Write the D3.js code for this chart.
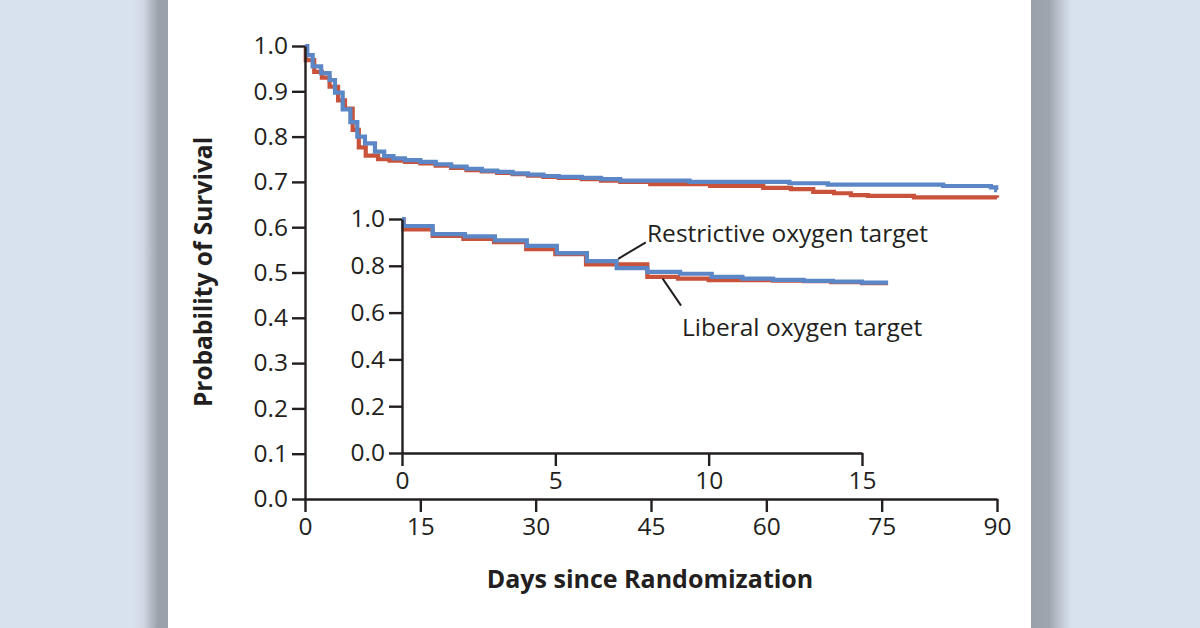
<!DOCTYPE html>
<html>
<head>
<meta charset="utf-8">
<script src="https://cdn.jsdelivr.net/npm/d3@7/dist/d3.min.js"></script>
<style>
  html, body { margin: 0; padding: 0; background: #d8e1ee; }
  svg { display: block; }
  text { font-family: "Open Sans", "Noto Sans", sans-serif; fill: #231f20; }
</style>
</head>
<body>
<svg id="chart" width="1200" height="628"></svg>
<script>
// ---------- DATA ----------
// Main panel (0-90 days)
const mainRestrictiveDays = [0, 0.3, 1.0, 2.1, 3.2, 3.9, 4.9, 5.9, 6.8, 7.8, 9.1, 10.3, 11.5, 13, 15, 17, 19, 21, 23, 25, 27, 29, 31, 33, 36, 38.5, 41, 50, 63, 68, 83, 89.2, 89.9, 90];
const mainRestrictiveSurv = [1.0, 0.98, 0.955, 0.94, 0.925, 0.897, 0.86, 0.832, 0.80, 0.785, 0.767, 0.757, 0.752, 0.748, 0.744, 0.739, 0.734, 0.729, 0.725, 0.722, 0.719, 0.716, 0.713, 0.711, 0.709, 0.706, 0.703, 0.70, 0.697, 0.694, 0.691, 0.688, 0.682, 0.682];
const mainLiberalDays = [0, 0.1, 1.2, 2.2, 3.2, 4.3, 5.2, 6.2, 7.0, 7.9, 9.5, 11, 13, 15, 17, 19, 21, 23, 25, 27, 29, 31, 33, 36, 38.5, 41, 44.9, 52.7, 59.6, 63.2, 66.1, 68.8, 71, 73.2, 79.2, 90];
const mainLiberalSurv = [1.0, 0.969, 0.943, 0.93, 0.91, 0.88, 0.862, 0.815, 0.776, 0.758, 0.75, 0.747, 0.744, 0.741, 0.736, 0.731, 0.726, 0.723, 0.720, 0.717, 0.714, 0.711, 0.709, 0.706, 0.703, 0.700, 0.695, 0.691, 0.687, 0.684, 0.678, 0.675, 0.671, 0.669, 0.666, 0.665];

// Inset (0-15.85 days)
const insetRestrictiveDays = [0, 0.05, 1.0, 2.05, 3.03, 4.07, 5.05, 6.03, 7.0, 8.0, 9.07, 10.1, 11.1, 12.1, 13.1, 14.05, 15.0, 15.85];
const insetRestrictiveSurv = [1.0, 0.970, 0.935, 0.926, 0.909, 0.885, 0.854, 0.820, 0.790, 0.774, 0.766, 0.753, 0.745, 0.740, 0.736, 0.732, 0.728, 0.728];
const insetLiberalDays = [0, 0.05, 1.0, 2.0, 3.0, 4.05, 5.0, 6.0, 8.0, 9.0, 10.0, 12.1, 13.1, 14.0, 15.0, 15.85];
const insetLiberalSurv = [1.0, 0.956, 0.928, 0.915, 0.901, 0.871, 0.850, 0.806, 0.753, 0.745, 0.739, 0.737, 0.734, 0.730, 0.726, 0.726];

// Ticks
const mainYTicks = [0, 0.1, 0.2, 0.3, 0.4, 0.5, 0.6, 0.7, 0.8, 0.9, 1.0];
const mainXTicks = [0, 15, 30, 45, 60, 75, 90];
const insetYTicks = [0, 0.2, 0.4, 0.6, 0.8, 1.0];
const insetXTicks = [0, 5, 10, 15];

const seriesNames = ["Restrictive oxygen target", "Liberal oxygen target"];
const xTitle = "Days since Randomization";
const yTitle = "Probability of Survival";

// ---------- DRAW ----------
const svg = d3.select("#chart");
const W = 1200, H = 628;
const ink = "#231f20";
const blue = "#5b87c6";
const red = "#c9523b";

// background with side shadows
const defs = svg.append("defs");
const gl = defs.append("linearGradient").attr("id", "shL").attr("x1", 0).attr("x2", 1).attr("y1", 0).attr("y2", 0);
gl.append("stop").attr("offset", 0).attr("stop-color", "#d8e1ee");
gl.append("stop").attr("offset", 0.3).attr("stop-color", "#d0d8e3");
gl.append("stop").attr("offset", 0.6).attr("stop-color", "#a9b0ba");
gl.append("stop").attr("offset", 0.72).attr("stop-color", "#9aa1aa");
gl.append("stop").attr("offset", 1).attr("stop-color", "#9aa1aa");
const gr = defs.append("linearGradient").attr("id", "shR").attr("x1", 0).attr("x2", 1).attr("y1", 0).attr("y2", 0);
gr.append("stop").attr("offset", 0).attr("stop-color", "#9aa1aa");
gr.append("stop").attr("offset", 0.45).attr("stop-color", "#9ea5ae");
gr.append("stop").attr("offset", 0.7).attr("stop-color", "#bcc3cd");
gr.append("stop").attr("offset", 1).attr("stop-color", "#d8e1ee");

svg.append("rect").attr("x", 0).attr("y", 0).attr("width", W).attr("height", H).attr("fill", "#d8e1ee");
svg.append("rect").attr("x", 133).attr("y", 0).attr("width", 35).attr("height", H).attr("fill", "url(#shL)");
svg.append("rect").attr("x", 1031).attr("y", 0).attr("width", 40).attr("height", H).attr("fill", "url(#shR)");
svg.append("rect").attr("x", 168).attr("y", 0).attr("width", 863).attr("height", H).attr("fill", "#ffffff");

const fontSize = 24.5;

function styleAxis(g) {
  g.selectAll(".domain").attr("stroke", ink).attr("stroke-width", 2.4);
  g.selectAll(".tick line").attr("stroke", ink).attr("stroke-width", 2.4);
  g.selectAll(".tick text").attr("font-size", fontSize).attr("fill", ink)
    .attr("font-family", '"Open Sans", "Noto Sans", sans-serif');
}

function drawPanel(xDomain, xRange, yRange, xTicks, yTicks, curves) {
  const x = d3.scaleLinear().domain(xDomain).range(xRange);
  const y = d3.scaleLinear().domain([0, 1]).range(yRange);
  const line = d3.line().x(d => x(d[0])).y(d => y(d[1])).curve(d3.curveStepAfter);
  curves.forEach(c => {
    const pts = c.days.map((d, i) => [d, c.surv[i]]);
    svg.append("path").datum(pts).attr("d", line)
      .attr("fill", "none").attr("stroke", c.color).attr("stroke-width", 4.2)
      .attr("stroke-linejoin", "miter");
  });
  const gx = svg.append("g").attr("transform", `translate(0,${yRange[0]})`)
    .call(d3.axisBottom(x).tickValues(xTicks).tickSize(13).tickSizeOuter(0).tickPadding(6).tickFormat(d3.format("d")));
  styleAxis(gx);
  const gy = svg.append("g").attr("transform", `translate(${xRange[0]},0)`)
    .call(d3.axisLeft(y).tickValues(yTicks).tickSize(13).tickSizeOuter(0).tickPadding(4).tickFormat(d3.format(".1f")));
  styleAxis(gy);
  return { x, y };
}

// main panel
const main = drawPanel([0, 90], [305, 997], [499, 46], mainXTicks, mainYTicks, [
  { days: mainLiberalDays, surv: mainLiberalSurv, color: red },
  { days: mainRestrictiveDays, surv: mainRestrictiveSurv, color: blue }
]);

// inset panel
const inset = drawPanel([0, 15], [402, 862], [453, 219], insetXTicks, insetYTicks, [
  { days: insetLiberalDays, surv: insetLiberalSurv, color: red },
  { days: insetRestrictiveDays, surv: insetRestrictiveSurv, color: blue }
]);

// series labels with leader lines
svg.append("line").attr("x1", inset.x(7.05)).attr("y1", inset.y(0.83)).attr("x2", inset.x(7.95)).attr("y2", inset.y(0.90))
  .attr("stroke", ink).attr("stroke-width", 2);
svg.append("text").attr("x", 647).attr("y", 242).attr("font-size", fontSize).text(seriesNames[0]);

svg.append("line").attr("x1", inset.x(8.5)).attr("y1", inset.y(0.745)).attr("x2", inset.x(9.1)).attr("y2", inset.y(0.63))
  .attr("stroke", ink).attr("stroke-width", 2);
svg.append("text").attr("x", 682).attr("y", 336).attr("font-size", fontSize).text(seriesNames[1]);

// axis titles
svg.append("text").attr("x", 650).attr("y", 588).attr("text-anchor", "middle")
  .attr("font-size", 25).attr("font-weight", 700).text(xTitle);
svg.append("text").attr("transform", "translate(212,272) rotate(-90)").attr("text-anchor", "middle")
  .attr("font-size", 24.5).attr("font-weight", 700).text(yTitle);
</script>
</body>
</html>
